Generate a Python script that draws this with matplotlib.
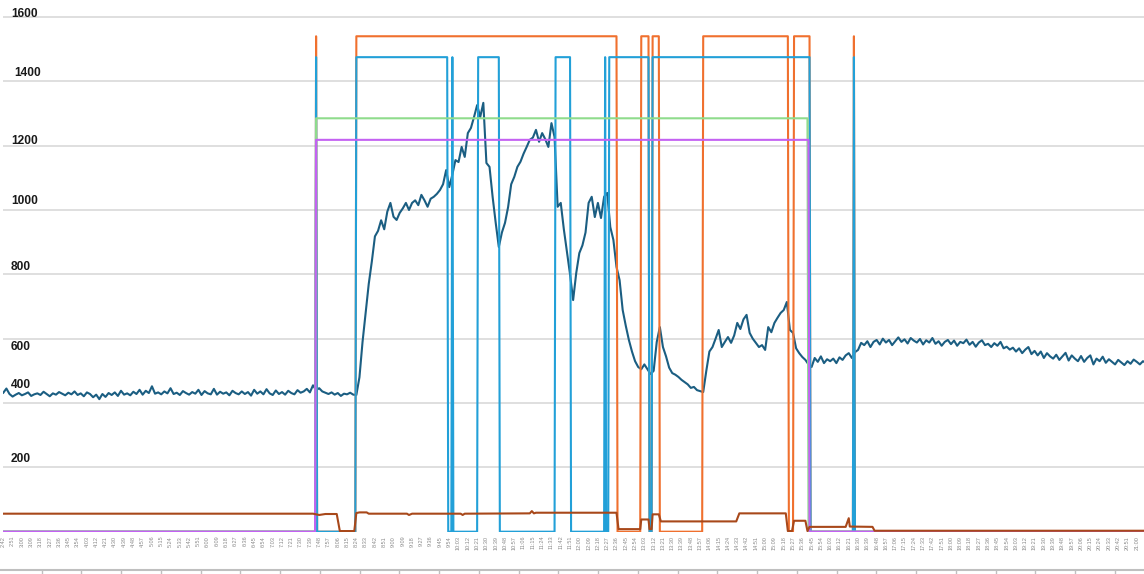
import numpy as np
import matplotlib.pyplot as plt

plt.rcParams["font.family"] = ["Liberation Sans", "DejaVu Sans"]

# x axis: one category per minute, first label 2:42, a label every 9 minutes up to 21:00
FIRST_MINUTE = 2 * 60 + 42
LAST_LABEL_OFFSET = 1098
TICK_STEP = 9
TICK_LABELS = [f"{(FIRST_MINUTE + k) // 60}:{(FIRST_MINUTE + k) % 60:02d}"
               for k in range(0, LAST_LABEL_OFFSET + 1, TICK_STEP)]

Y_GRID = [200, 400, 600, 800, 1000, 1200, 1400, 1600]

# main measurement, one reading every 3 minutes from 2:42
TEAL_STEP = 3
TEAL = [
    432, 445, 428, 420, 426, 431, 424, 428, 433, 422, 427, 430, 425, 435, 428, 421, 430, 426, 434, 429,
    424, 432, 427, 436, 425, 430, 421, 433, 428, 418, 426, 412, 428, 419, 431, 425, 433, 422, 438, 426,
    430, 424, 435, 428, 441, 426, 438, 431, 452, 429, 433, 427, 436, 430, 446, 428, 432, 425, 437, 431,
    426, 434, 429, 441, 425, 437, 430, 427, 444, 426, 435, 429, 433, 424, 438, 431, 427, 436, 428, 434,
    423, 441, 429, 436, 427, 443, 430, 425, 439, 428, 434, 426, 438, 431, 427, 440, 432, 436, 444, 433,
    455, 440, 446, 436, 432, 428, 433, 426, 431, 422, 429, 427, 432, 426, 425, 480, 590, 680, 770, 840,
    918, 935, 968, 940, 995, 1022, 979, 969, 991, 1005, 1022, 1000, 1022, 1030, 1015, 1047, 1030, 1010, 1035, 1041,
    1050, 1062, 1080, 1124, 1071, 1110, 1155, 1149, 1196, 1165, 1239, 1255, 1289, 1326, 1289, 1333, 1146, 1134, 1041, 960,
    885, 930, 960, 1009, 1080, 1103, 1134, 1150, 1175, 1196, 1218, 1225, 1249, 1212, 1239, 1220, 1196, 1270, 1227, 1010,
    1022, 940, 870, 800, 720, 804, 866, 890, 930, 1022, 1041, 978, 1022, 975, 1041, 1053, 947, 907, 823, 782,
    689, 640, 596, 560, 530, 512, 505, 520, 505, 490, 500, 590, 636, 574, 545, 510, 493, 488, 481, 472,
    465, 458, 447, 450, 440, 437, 434, 500, 560, 574, 600, 627, 574, 590, 605, 587, 610, 649, 630, 660,
    674, 618, 600, 587, 574, 580, 565, 636, 620, 649, 665, 680, 689, 714, 627, 618, 570, 555, 543, 534,
    520, 512, 540, 528, 545, 524, 536, 530, 538, 524, 542, 534, 548, 555, 540, 558, 565, 587, 580, 592,
    574, 590, 596, 582, 600, 588, 596, 580, 592, 604, 590, 598, 585, 602, 594, 588, 599, 582, 595, 588,
    602, 584, 592, 578, 590, 596, 583, 594, 578, 590, 586, 597, 581, 590, 575, 588, 595, 580, 584, 574,
    586, 578, 590, 570, 575, 566, 572, 560, 570, 555, 566, 574, 552, 562, 548, 560, 540, 555, 545, 538,
    550, 534, 545, 556, 532, 548, 538, 530, 546, 528, 540, 548, 520, 538, 530, 544, 525, 536, 528, 520,
    534, 526, 518, 530, 522, 535, 528, 520, 530, 524,
]

# on/off signals: minute ranges (inclusive) where the signal is high
N_MINUTES = 1108
ORANGE_HIGH = 1540
ORANGE_ON = [(303, 303), (342, 594), (618, 625), (629, 635), (678, 760), (766, 781), (824, 824)]
BLUE_HIGH = 1475
BLUE_ON = [(303, 303), (342, 430), (435, 435), (460, 480), (535, 549), (583, 583),
           (587, 625), (629, 781), (824, 824)]
GREEN_HIGH = 1285
GREEN_ON = [(303, 779)]
PURPLE_HIGH = 1218
PURPLE_ON = [(303, 780)]

# brown series, read as breakpoints (minute, value)
BROWN_MIN = [0, 300, 306, 312, 318, 323, 326, 340, 342, 345, 352, 354, 391, 393, 396,
             443, 445, 447, 510, 512, 514, 516, 594, 596, 617, 618, 625, 626, 628, 629,
             635, 637, 710, 713, 758, 760, 764, 766, 777, 779, 781, 816, 819, 820, 842,
             844, 1107]
BROWN_VAL = [56, 56, 52, 55, 55, 55, 2, 2, 58, 60, 60, 56, 56, 52, 56,
             56, 52, 56, 57, 64, 57, 59, 59, 8, 8, 38, 38, 8, 8, 54,
             54, 32, 32, 57, 57, 2, 2, 34, 34, 2, 15, 15, 42, 16, 15,
             3, 3]


def signal(ranges, high):
    y = np.zeros(N_MINUTES)
    for a, b in ranges:
        y[a:b + 1] = high
    return y


W, H = 1144, 574
X0_PX, ZERO_PX = 3.3, 531.7

fig = plt.figure(figsize=(W / 100, H / 100), dpi=100)
ax = fig.add_axes([X0_PX / W, (H - ZERO_PX) / H, 1 - X0_PX / W, ZERO_PX / H])
ax.set_xlim(0, 1105)
ax.set_ylim(0, 1652.7)

minutes = np.arange(N_MINUTES)
teal_x = np.arange(len(TEAL)) * TEAL_STEP

ax.plot(teal_x, TEAL, color="#1b5e82", lw=1.5, zorder=3)
ax.plot(minutes, signal(ORANGE_ON, ORANGE_HIGH), color="#f0702e", lw=1.5, zorder=4)
ax.plot(minutes, signal(BLUE_ON, BLUE_HIGH), color="#22a0d8", lw=1.5, zorder=5)
ax.plot(minutes, signal(GREEN_ON, GREEN_HIGH), color="#8fdc8c", lw=1.5, zorder=6)
ax.plot(minutes, signal(PURPLE_ON, PURPLE_HIGH), color="#c462f2", lw=1.5, zorder=7)
ax.plot(BROWN_MIN, BROWN_VAL, color="#a8481a", lw=1.5, zorder=8)

for s in ax.spines.values():
    s.set_visible(False)

ax.set_yticks(Y_GRID)
ax.yaxis.grid(True, color="#d9d9d9", lw=1.2, zorder=0)
ax.tick_params(axis="y", length=0, labelleft=False)

ax.set_xticks(range(0, LAST_LABEL_OFFSET + 1, TICK_STEP))
ax.set_xticklabels(TICK_LABELS, rotation=90, fontsize=4, color="#8a8a8a")
ax.tick_params(axis="x", length=0, pad=3)

# y labels sit loosely above the gridlines, as in the original screenshot
label_shift = {1600: 9, 1400: 26, 1200: 14, 1000: 28, 800: 23, 600: -26, 400: 56, 200: 26}
label_x = {1400: 14}
for v in Y_GRID:
    xpx = label_x.get(v, 11)
    ax.text((xpx - X0_PX) / (W - X0_PX), v + label_shift[v], str(v),
            transform=ax.get_yaxis_transform(), ha="left", va="center",
            fontsize=8.6, fontweight="bold", color="#1a1a1a", zorder=9)

# outer frame line along the bottom with small ticks
frame = fig.add_axes([0, 0, 1, 1], zorder=-1)
frame.set_xlim(0, W)
frame.set_ylim(H, 0)
frame.axis("off")
frame.plot([0, W], [570, 570], color="#bfbfbf", lw=1.5)
for xt in np.arange(41.7, 1120, 39.75):
    frame.plot([xt, xt], [570, 574], color="#bfbfbf", lw=1)

fig.savefig("out.png", dpi=100)
